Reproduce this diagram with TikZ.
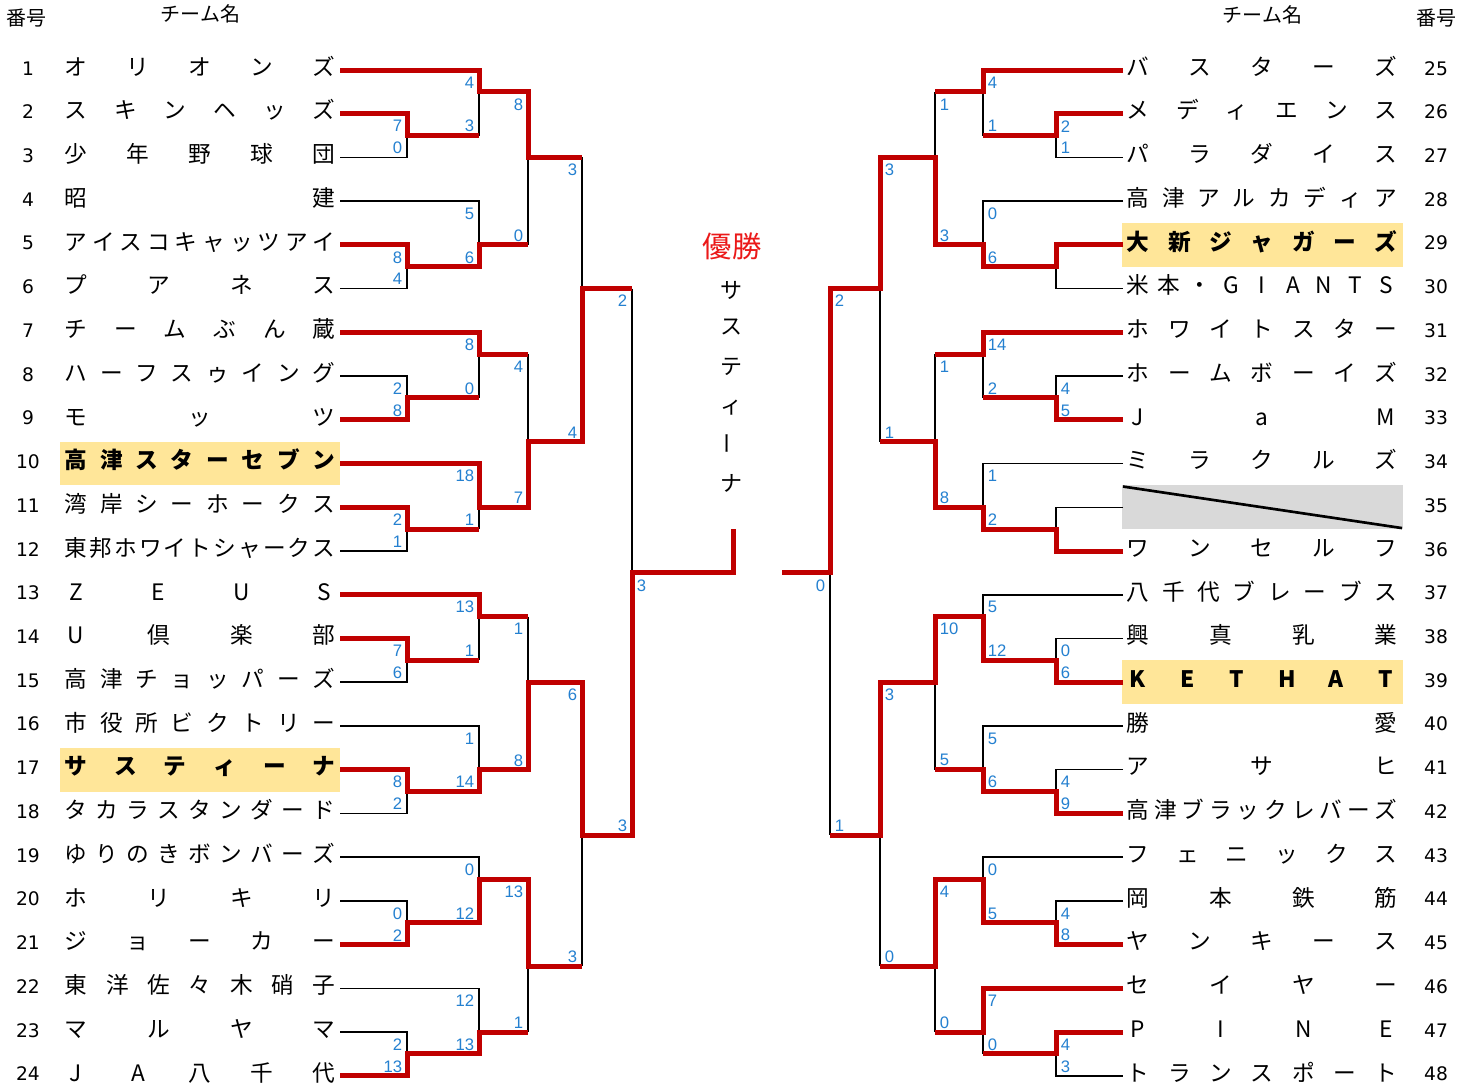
\documentclass[tikz,border=0pt]{standalone}
\usepackage{fontspec}
\newfontfamily\jpf{Noto Sans CJK JP}
\newfontfamily\numf{DejaVu Sans}
\newfontfamily\scff{Liberation Sans}
\definecolor{wred}{RGB}{192,0,0}
\definecolor{sblue}{RGB}{36,128,208}
\definecolor{hiy}{RGB}{255,230,153}
\definecolor{gry}{RGB}{217,217,217}
\definecolor{vred}{RGB}{235,25,25}
\newcounter{scn}
\tikzset{
 blk/.style={line width=1.2pt,draw=black},
 win/.style={line width=3.75pt,draw=wred},
 nm/.style={font=\jpf\fontsize{17pt}{20pt}\selectfont,inner sep=0pt,anchor=base},
 nmb/.style={nm,font=\jpf\bfseries\fontsize{17pt}{20pt}\selectfont},
 nr/.style={font=\numf\fontsize{14pt}{16pt}\selectfont,inner sep=0pt,anchor=base},
 sc/.style={font=\scff\fontsize{12.5pt}{14pt}\selectfont,text=sblue,inner sep=0pt},
 hd/.style={font=\jpf\fontsize{15pt}{18pt}\selectfont,inner sep=0pt,anchor=base},
 vt/.style={font=\jpf\fontsize{16.5pt}{18pt}\selectfont,inner sep=0pt},
}
\newcommand\tname[5]{%
 \foreach \ch [count=\i] in {#5} {%
   \pgfmathsetmacro\xx{#1+(\i-1)*248/(#3-1)}%
   \node[#4,name=t#2x#1c\i] at (\xx,#2+0.24) {\ch};
 }}
\newcommand\scL[3]{\stepcounter{scn}\node[sc,anchor=east,name=s\arabic{scn}] at (#1-4.5,#2+0.57) {#3};}
\newcommand\scR[3]{\stepcounter{scn}\node[sc,anchor=west,name=s\arabic{scn}] at (#1+4.5,#2+0.57) {#3};}
\begin{document}
\begin{tikzpicture}[x=0.75pt,y=-16.39875pt]
\useasboundingbox (0,-3.2015) rectangle (1473,46.4675);
\fill[white] (0,-3.2015) rectangle (1473,46.4675);
% highlight boxes
\fill[hiy] (60,17) rectangle (340,19);
\fill[hiy] (60,31) rectangle (340,33);
\fill[hiy] (1122,7) rectangle (1403,9);
\fill[hiy] (1122,27) rectangle (1403,29);
\fill[gry] (1122,19) rectangle (1403,21);
\draw[line width=2pt] (1123,19.05) -- (1402,20.95);
% black structure
\foreach \t/\j in {0/1,6/8,12/13,18/20,24/25,30/32,36/37,42/44} {
  \draw[blk] (340,\t) -- (479,\t) -- (479,\t+3);
  \draw[blk] (340,\t+2) -- (407,\t+2) -- (407,\t+4) -- (340,\t+4);
  \draw[blk] (407,\t+3) -- (479,\t+3);
  \draw[blk] (479,\j) -- (528,\j);
  \draw[blk] (1123,\t) -- (983,\t) -- (983,\t+3);
  \draw[blk] (1123,\t+2) -- (1056,\t+2) -- (1056,\t+4) -- (1123,\t+4);
  \draw[blk] (1056,\t+3) -- (983,\t+3);
  \draw[blk] (983,\j) -- (935,\j);
}
\foreach \a/\b/\q in {1/8/4,13/20/17,25/32/28,37/44/41} {
  \draw[blk] (528,\a) -- (528,\b); \draw[blk] (528,\q) -- (582,\q);
  \draw[blk] (935,\a) -- (935,\b); \draw[blk] (935,\q) -- (880,\q);
}
\draw[blk] (582,4) -- (582,17); \draw[blk] (582,10) -- (632,10);
\draw[blk] (582,28) -- (582,41); \draw[blk] (582,35) -- (632,35);
\draw[blk] (632,10) -- (632,35);
\draw[blk] (880,4) -- (880,17); \draw[blk] (880,10) -- (830,10);
\draw[blk] (880,28) -- (880,41); \draw[blk] (880,35) -- (830,35);
\draw[blk] (830,10) -- (830,35);
% red winners left
\draw[win] (340,0)--(479,0)--(479,1)--(528,1)--(528,4)--(582,4);
\draw[win] (340,2)--(407,2)--(407,3)--(479,3);
\draw[win] (340,8)--(407,8)--(407,9)--(479,9)--(479,8)--(528,8);
\draw[win] (340,12)--(479,12)--(479,13)--(528,13);
\draw[win] (340,16)--(407,16)--(407,15)--(479,15);
\draw[win] (340,18)--(479,18)--(479,20)--(528,20)--(528,17)--(582,17)--(582,10)--(632,10);
\draw[win] (340,20)--(407,20)--(407,21)--(479,21);
\draw[win] (340,24)--(479,24)--(479,25)--(528,25);
\draw[win] (340,26)--(407,26)--(407,27)--(479,27);
\draw[win] (340,32)--(407,32)--(407,33)--(479,33)--(479,32)--(528,32)--(528,28)--(582,28)--(582,35)--(632,35)--(632,23)--(733,23)--(733,21);
\draw[win] (340,40)--(407,40)--(407,39)--(479,39)--(479,37)--(528,37)--(528,41)--(582,41);
\draw[win] (340,46)--(407,46)--(407,45)--(479,45)--(479,44)--(528,44);
% red winners right
\draw[win] (1123,0)--(983,0)--(983,1)--(935,1);
\draw[win] (1123,2)--(1056,2)--(1056,3)--(983,3);
\draw[win] (1123,8)--(1056,8)--(1056,9)--(983,9)--(983,8)--(935,8)--(935,4)--(880,4)--(880,10)--(830,10)--(830,23)--(782,23);
\draw[win] (1123,12)--(983,12)--(983,13)--(935,13);
\draw[win] (1123,16)--(1056,16)--(1056,15)--(983,15);
\draw[win] (1123,22)--(1056,22)--(1056,21)--(983,21)--(983,20)--(935,20)--(935,17)--(880,17);
\draw[win] (1123,28)--(1056,28)--(1056,27)--(983,27)--(983,25)--(935,25)--(935,28)--(880,28)--(880,35)--(830,35);
\draw[win] (1123,34)--(1056,34)--(1056,33)--(983,33)--(983,32)--(935,32);
\draw[win] (1123,40)--(1056,40)--(1056,39)--(983,39)--(983,37)--(935,37)--(935,41)--(880,41);
\draw[win] (1123,42)--(983,42)--(983,44)--(935,44);
\draw[win] (1123,44)--(1056,44)--(1056,45)--(983,45);
% scores left
\foreach \k/\v in {2/7,3/0,8/8,9/4,14/2,15/8,20/2,21/1,26/7,27/6,32/8,33/2,38/0,39/2,44/2,45/13} {\scL{407}{\k}{\v}}
\foreach \k/\v in {0/4,2/3,6/5,8/6,12/8,14/0,18/18,20/1,24/13,26/1,30/1,32/14,36/0,38/12,42/12,44/13} {\scL{479}{\k}{\v}}
\foreach \k/\v in {1/8,7/0,13/4,19/7,25/1,31/8,37/13,43/1} {\scL{528}{\k}{\v}}
\foreach \k/\v in {4/3,16/4,28/6,40/3} {\scL{582}{\k}{\v}}
\foreach \k/\v in {10/2,34/3} {\scL{632}{\k}{\v}}
\scR{632}{23}{3}
\scL{830}{23}{0}
% scores right
\foreach \k/\v in {2/2,3/1,14/4,15/5,26/0,27/6,32/4,33/9,38/4,39/8,44/4,45/3} {\scR{1056}{\k}{\v}}
\foreach \k/\v in {0/4,2/1,6/0,8/6,12/14,14/2,18/1,20/2,24/5,26/12,30/5,32/6,36/0,38/5,42/7,44/0} {\scR{983}{\k}{\v}}
\foreach \k/\v in {1/1,7/3,13/1,19/8,25/10,31/5,37/4,43/0} {\scR{935}{\k}{\v}}
\foreach \k/\v in {4/3,16/1,28/3,40/0} {\scR{880}{\k}{\v}}
\foreach \k/\v in {10/2,34/1} {\scR{830}{\k}{\v}}
% headers
\node[hd,name=h1] at (27,-2.03) {番号};
\node[hd,name=h2] at (200.5,-2.2) {チーム名};
\node[hd,name=h3] at (1262.5,-2.18) {チーム名};
\node[hd,name=h4] at (1436,-2.05) {番号};
% numbers
\foreach \i in {1,...,24} {\pgfmathtruncatemacro\mm{2*(\i-1)}\node[nr,name=nl\i] at (28,\mm+0.23) {\i};}
\foreach \i in {25,...,48} {\pgfmathtruncatemacro\mm{2*(\i-25)}\node[nr,name=nr\i] at (1436,\mm+0.23) {\i};}
% left names
\tname{76}{0}{5}{nm}{オ,リ,オ,ン,ズ}
\tname{76}{2}{6}{nm}{ス,キ,ン,ヘ,ッ,ズ}
\tname{76}{4}{5}{nm}{少,年,野,球,団}
\tname{76}{6}{2}{nm}{昭,建}
\tname{76}{8}{10}{nm}{ア,イ,ス,コ,キ,ャ,ッ,ツ,ア,イ}
\tname{76}{10}{4}{nm}{プ,ア,ネ,ス}
\tname{76}{12}{6}{nm}{チ,ー,ム,ぶ,ん,蔵}
\tname{76}{14}{8}{nm}{ハ,ー,フ,ス,ゥ,イ,ン,グ}
\tname{76}{16}{3}{nm}{モ,ッ,ツ}
\tname{76}{18}{8}{nmb}{高,津,ス,タ,ー,セ,ブ,ン}
\tname{76}{20}{8}{nm}{湾,岸,シ,ー,ホ,ー,ク,ス}
\tname{76}{22}{11}{nm}{東,邦,ホ,ワ,イ,ト,シ,ャ,ー,ク,ス}
\tname{76}{24}{4}{nm}{Z,E,U,S}
\tname{76}{26}{4}{nm}{U,倶,楽,部}
\tname{76}{28}{8}{nm}{高,津,チ,ョ,ッ,パ,ー,ズ}
\tname{76}{30}{8}{nm}{市,役,所,ビ,ク,ト,リ,ー}
\tname{76}{32}{6}{nmb}{サ,ス,テ,ィ,ー,ナ}
\tname{76}{34}{9}{nm}{タ,カ,ラ,ス,タ,ン,ダ,ー,ド}
\tname{76}{36}{9}{nm}{ゆ,り,の,き,ボ,ン,バ,ー,ズ}
\tname{76}{38}{4}{nm}{ホ,リ,キ,リ}
\tname{76}{40}{5}{nm}{ジ,ョ,ー,カ,ー}
\tname{76}{42}{7}{nm}{東,洋,佐,々,木,硝,子}
\tname{76}{44}{4}{nm}{マ,ル,ヤ,マ}
\tname{76}{46}{5}{nm}{J,A,八,千,代}
% right names
\tname{1138}{0}{5}{nm}{バ,ス,タ,ー,ズ}
\tname{1138}{2}{6}{nm}{メ,デ,ィ,エ,ン,ス}
\tname{1138}{4}{5}{nm}{パ,ラ,ダ,イ,ス}
\tname{1138}{6}{8}{nm}{高,津,ア,ル,カ,デ,ィ,ア}
\tname{1138}{8}{7}{nmb}{大,新,ジ,ャ,ガ,ー,ズ}
\tname{1138}{10}{9}{nm}{米,本,・,G,I,A,N,T,S}
\tname{1138}{12}{7}{nm}{ホ,ワ,イ,ト,ス,タ,ー}
\tname{1138}{14}{7}{nm}{ホ,ー,ム,ボ,ー,イ,ズ}
\tname{1138}{16}{3}{nm}{J,a,M}
\tname{1138}{18}{5}{nm}{ミ,ラ,ク,ル,ズ}
\tname{1138}{22}{5}{nm}{ワ,ン,セ,ル,フ}
\tname{1138}{24}{8}{nm}{八,千,代,ブ,レ,ー,ブ,ス}
\tname{1138}{26}{4}{nm}{興,真,乳,業}
\tname{1138}{28}{6}{nmb}{K,E,T,H,A,T}
\tname{1138}{30}{2}{nm}{勝,愛}
\tname{1138}{32}{3}{nm}{ア,サ,ヒ}
\tname{1138}{34}{10}{nm}{高,津,ブ,ラ,ッ,ク,レ,バ,ー,ズ}
\tname{1138}{36}{6}{nm}{フ,ェ,ニ,ッ,ク,ス}
\tname{1138}{38}{4}{nm}{岡,本,鉄,筋}
\tname{1138}{40}{5}{nm}{ヤ,ン,キ,ー,ス}
\tname{1138}{42}{4}{nm}{セ,イ,ヤ,ー}
\tname{1138}{44}{4}{nm}{P,I,N,E}
\tname{1138}{46}{7}{nm}{ト,ラ,ン,ス,ポ,ー,ト}
% champion
\node[font=\jpf\fontsize{22pt}{24pt}\selectfont,text=vred,inner sep=0pt,name=win] at (732,8.05) {優勝};
\node[vt,name=v1] at (731,10.06) {サ};
\node[vt,name=v2] at (731,11.75) {ス};
\node[vt,name=v3] at (731,13.58) {テ};
\node[vt,name=v4] at (731,15.46) {ィ};
\node[vt,rotate=90,name=v5] at (731,17.06) {ー};
\node[vt,name=v6] at (731,18.89) {ナ};
\end{tikzpicture}
\end{document}
